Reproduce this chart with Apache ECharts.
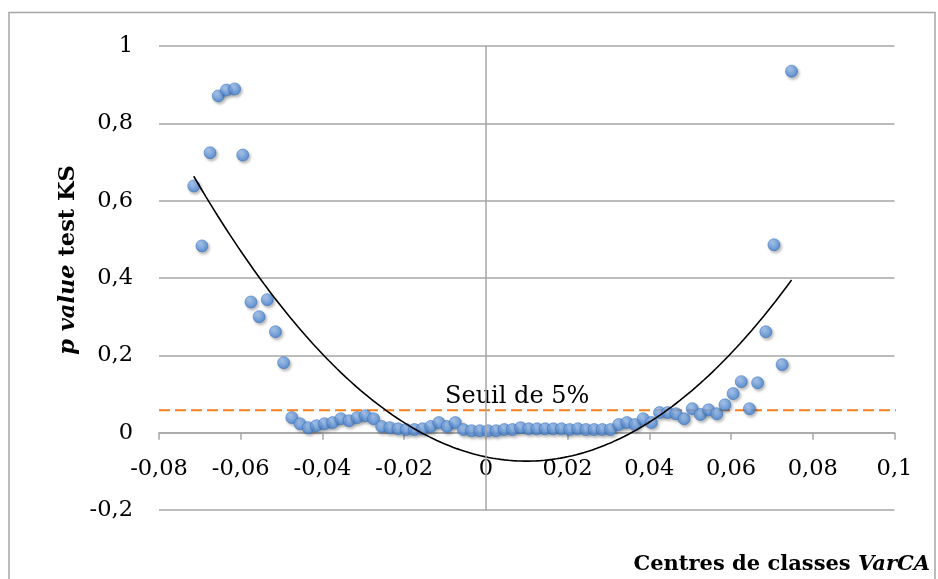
<!DOCTYPE html>
<html>
<head>
<meta charset="utf-8">
<script src="https://cdn.jsdelivr.net/npm/echarts@6/dist/echarts.min.js"></script>
<style>html,body{margin:0;padding:0;background:#fff;}#c{width:938px;height:579px;}</style>
</head>
<body>
<div id="c"></div>
<script>
// Class centres (VarCA)
var classCentres = [
  -0.0715,-0.0695,-0.0675,-0.0655,-0.0635,-0.0615,-0.0595,-0.0575,-0.0555,-0.0535,
  -0.0515,-0.0495,-0.0475,-0.0455,-0.0435,-0.0415,-0.0395,-0.0375,-0.0355,-0.0335,
  -0.0315,-0.0295,-0.0275,-0.0255,-0.0235,-0.0215,-0.0195,-0.0175,-0.0155,-0.0135,
  -0.0115,-0.0095,-0.0075,-0.0055,-0.0035,-0.0015,0.0005,0.0025,0.0045,0.0065,
  0.0085,0.0105,0.0125,0.0145,0.0165,0.0185,0.0205,0.0225,0.0245,0.0265,
  0.0285,0.0305,0.0325,0.0345,0.0365,0.0385,0.0405,0.0425,0.0445,0.0465,
  0.0485,0.0505,0.0525,0.0545,0.0565,0.0585,0.0605,0.0625,0.0645,0.0665,
  0.0685,0.0705,0.0725,0.0748
];
// p value of the KS test
var pValues = [
  0.638,0.483,0.724,0.871,0.886,0.889,0.718,0.338,0.300,0.344,
  0.261,0.181,0.039,0.023,0.013,0.018,0.023,0.026,0.036,0.031,
  0.039,0.044,0.036,0.016,0.013,0.010,0.008,0.008,0.010,0.016,
  0.026,0.016,0.026,0.008,0.005,0.005,0.005,0.005,0.008,0.008,
  0.013,0.010,0.010,0.010,0.010,0.010,0.008,0.010,0.008,0.008,
  0.008,0.008,0.021,0.026,0.021,0.036,0.026,0.052,0.052,0.049,
  0.036,0.062,0.047,0.059,0.049,0.072,0.101,0.132,0.062,0.129,
  0.261,0.486,0.176,0.935
];
var threshold = 0.058;
var thresholdLabel = 'Seuil de 5%';
var xTicks = {min: -0.08, max: 0.1, interval: 0.02};
var yTicks = {min: -0.2, max: 1, interval: 0.2};

// polynomial (order 2) least-squares trendline, computed from the data
function polyFit2(xs, ys) {
  var n = xs.length, s = [0,0,0,0,0], t = [0,0,0];
  for (var i = 0; i < n; i++) {
    var x = xs[i], y = ys[i], p = 1;
    for (var k = 0; k < 5; k++) { s[k] += p; if (k < 3) t[k] += p * y; p *= x; }
  }
  var A = [[s[0],s[1],s[2],t[0]],[s[1],s[2],s[3],t[1]],[s[2],s[3],s[4],t[2]]];
  for (var c = 0; c < 3; c++) {
    for (var r = c + 1; r < 3; r++) {
      var f = A[r][c] / A[c][c];
      for (var j = c; j < 4; j++) A[r][j] -= f * A[c][j];
    }
  }
  var b = [0,0,0];
  for (var r2 = 2; r2 >= 0; r2--) {
    var v = A[r2][3];
    for (var j2 = r2 + 1; j2 < 3; j2++) v -= A[r2][j2] * b[j2];
    b[r2] = v / A[r2][r2];
  }
  return b;
}
var coef = polyFit2(classCentres, pValues);
var trend = [];
var x0 = classCentres[0], x1 = classCentres[classCentres.length - 1];
for (var i = 0; i <= 150; i++) {
  var x = x0 + (x1 - x0) * i / 150;
  trend.push([x, coef[0] + coef[1] * x + coef[2] * x * x]);
}

var pts = classCentres.map(function (x, i) { return [x, pValues[i]]; });
function fmt(v) { return String(Math.round(v * 100) / 100).replace('.', ','); }

var gridTop = 46, gridBottom = 69, H = 579;
var plotH = H - gridTop - gridBottom;
// move the x axis up onto y = 0
var xAxisOffset = -((0 - yTicks.min) / (yTicks.max - yTicks.min)) * plotH;

var serif = 'DejaVu Serif';
var chart = echarts.init(document.getElementById('c'), null, {renderer: 'canvas'});
chart.setOption({
  animation: false,
  backgroundColor: '#ffffff',
  grid: {left: 159, right: 43.5, top: gridTop, bottom: gridBottom},
  xAxis: {
    type: 'value', min: xTicks.min, max: xTicks.max, interval: xTicks.interval,
    position: 'bottom', offset: xAxisOffset,
    axisLine: {show: true, onZero: false, lineStyle: {color: '#a6a6a6', width: 1.5}},
    axisTick: {show: true, length: 7, lineStyle: {color: '#a6a6a6', width: 1.5}},
    axisLabel: {formatter: fmt, color: '#000', fontFamily: serif, fontSize: 22.5, margin: 25},
    splitLine: {show: false}
  },
  yAxis: {
    type: 'value', min: yTicks.min, max: yTicks.max, interval: yTicks.interval,
    axisLine: {show: false, onZero: false},
    axisTick: {show: false},
    axisLabel: {formatter: fmt, color: '#000', fontFamily: serif, fontSize: 22.5, margin: 26},
    splitLine: {show: true, lineStyle: {color: '#a6a6a6', width: 1.5}}
  },
  graphic: [
    {type: 'rect', shape: {x: 9, y: 12.5, width: 926, height: 620}, style: {fill: 'none', stroke: '#a6a6a6', lineWidth: 1.5}, silent: true},
    {type: 'text', x: 445, y: 397, style: {text: thresholdLabel, fontFamily: serif, fontSize: 24, fill: '#000', align: 'left', verticalAlign: 'middle'}},
    {type: 'text', x: 930, y: 565, style: {text: 'Centres de classes {i|VarCA}', fontFamily: serif, fontSize: 21, fontWeight: 'bold', fill: '#000', align: 'right', verticalAlign: 'middle',
      rich: {i: {fontFamily: serif, fontSize: 21, fontWeight: 'bold', fontStyle: 'italic', fill: '#000'}}}},
    {type: 'text', x: 68, y: 260, rotation: Math.PI / 2, style: {text: '{i|p value} test KS', fontFamily: serif, fontSize: 22.5, fontWeight: 'bold', fill: '#000', align: 'center', verticalAlign: 'middle',
      rich: {i: {fontFamily: serif, fontSize: 22.5, fontWeight: 'bold', fontStyle: 'italic', fill: '#000'}}}}
  ],
  series: [
    {
      type: 'line', data: [[xTicks.min, threshold], [0.1025, threshold]], symbol: 'none', clip: false, z: 2,
      lineStyle: {color: '#f7801e', width: 2.2, type: [11, 5]},
      markLine: {silent: true, symbol: 'none', label: {show: false},
        lineStyle: {color: '#a6a6a6', width: 1.5, type: 'solid'}, data: [{xAxis: 0}]}
    },
    {
      type: 'scatter', data: pts, symbolSize: 12, z: 3,
      itemStyle: {
        color: {type: 'radial', x: 0.4, y: 0.35, r: 0.65, colorStops: [{offset: 0, color: '#a0c4f4'}, {offset: 1, color: '#4383d4'}]},
        borderColor: '#3a72bc', borderWidth: 0.7,
        shadowColor: 'rgba(0,0,0,0.35)', shadowBlur: 3, shadowOffsetX: 1.5, shadowOffsetY: 2
      }
    },
    {
      type: 'line', data: trend, symbol: 'none', z: 4, smooth: false,
      lineStyle: {color: '#000', width: 1.6}
    }
  ]
});
</script>
</body>
</html>
